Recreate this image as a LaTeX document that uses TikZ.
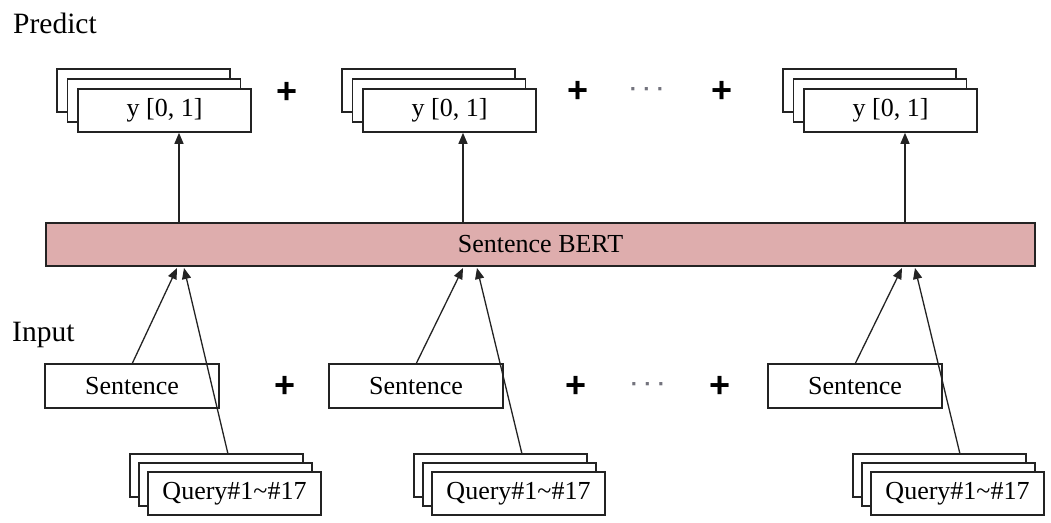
\documentclass[tikz,border=0pt]{standalone}
\usepackage{fontspec}
\setmainfont{Liberation Serif}
\newfontfamily\plusfont{Liberation Sans}
\usetikzlibrary{arrows.meta}
\definecolor{bertpink}{RGB}{222,173,173}
\definecolor{edge}{RGB}{35,35,35}
\definecolor{dotgray}{RGB}{115,115,125}
\begin{document}
\begin{tikzpicture}[x=1pt,y=-1pt,
  box/.style={draw=edge,line width=1.6pt,fill=white,minimum width=173pt,minimum height=43pt,inner sep=0pt,font=\fontsize{26}{30}\selectfont},
  sbox/.style={box,minimum width=174pt,minimum height=44pt},
  arr/.style={draw=edge,line width=1.3pt,-{Triangle[length=11pt,width=9pt]}},
  plus/.style={inner sep=0pt,font=\plusfont\bfseries\fontsize{36}{36}\selectfont},
  dots/.style={inner sep=0pt,text=dotgray,font=\plusfont\bfseries\fontsize{22}{22}\selectfont},
  lbl/.style={anchor=base west,inner sep=0pt,font=\fontsize{29.5}{32}\selectfont}]
\useasboundingbox (0,0) rectangle (1051,522);

% labels
\node[lbl] (predict) at (13,33) {Predict};
\node[lbl] (input) at (12,341) {Input};

% predict stacks
\foreach \i/\l in {1/57,2/342,3/783}{
  \node[box] (pb\i) at (\l+86.5,90.5) {};
  \node[box] (pm\i) at (\l+97,100.5) {};
  \node[box] (p\i) at (\l+107.5,110.5) {y [0, 1]};
}

% Sentence BERT
\node[draw=edge,line width=1.6pt,fill=bertpink,minimum width=989pt,minimum height=43pt,inner sep=0pt,font=\fontsize{26}{30}\selectfont] (bert) at (540.5,244.5) {Sentence BERT};

% top arrows
\foreach \i/\x in {1/179,2/463,3/905}{
  \coordinate (a\i) at (\x,223);
  \draw[arr] (a\i) -- (p\i.south -| a\i);
}

% sentence boxes
\foreach \i/\x in {1/132,2/416,3/855}{
  \node[sbox] (s\i) at (\x,386) {Sentence};
}

% query stacks
\foreach \i/\l in {1/130,2/414,3/853}{
  \node[box] (qb\i) at (\l+86.5,475.5) {};
  \node[box] (qm\i) at (\l+95.5,484.5) {};
  \node[box] (q\i) at (\l+104.5,493.5) {Query\#1\char`~\#17};
}

% bottom arrows
\foreach \i/\sx/\ex/\qx/\fx in {1/132/177/228/184, 2/416/463/522/477, 3/855/902/960/915}{
  \coordinate (ss\i) at (\sx,364);
  \coordinate (es\i) at (\ex,268);
  \coordinate (qs\i) at (\qx,454);
  \coordinate (eq\i) at (\fx,268);
  \draw[arr] (ss\i) -- (es\i);
  \draw[arr] (qs\i) -- (eq\i);
}

% plus signs and dots
\node[plus] (pl1) at (287,93) {+};
\node[plus] (pl2) at (578,92) {+};
\node[plus] (pl3) at (722,92) {+};
\node[dots] (d1) at (647,92) {· · ·};
\node[plus] (pl4) at (285,387) {+};
\node[plus] (pl5) at (576,387) {+};
\node[plus] (pl6) at (720,387) {+};
\node[dots] (d2) at (648,387) {· · ·};
\end{tikzpicture}
\end{document}
